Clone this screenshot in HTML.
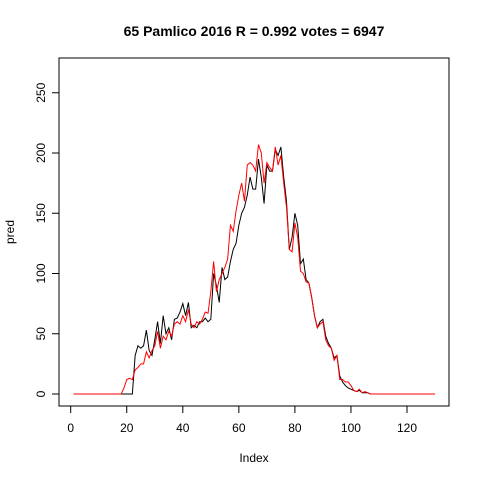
<!DOCTYPE html>
<html><head><meta charset="utf-8"><style>body{margin:0;background:#fff}svg{display:block}text{font-family:"Liberation Sans",Arial,sans-serif}</style></head>
<body>
<svg id="c" width="480" height="480">
<text x="254" y="36" text-anchor="middle" font-size="14" font-weight="bold">65 Pamlico 2016 R = 0.992 votes = 6947</text>
<rect x="59" y="58" width="390" height="348" fill="none" stroke="#000"/>
<text x="254" y="462" text-anchor="middle" font-size="12">Index</text>
<text transform="translate(14,232) rotate(-90)" text-anchor="middle" font-size="12">pred</text>
<g id="ax"></g>
</svg>
<script>
const xTicks=[0,20,40,60,80,100,120];
const yTicks=[0,50,100,150,200,250];
const actual=[0,0,0,0,0,0,0,0,0,0,0,0,0,0,0,0,0,0,0,0,0,0,32,40,38,40,53,36,32,45,60,42,65,50,55,45,62,63,68,75,65,76,55,57,55,60,60,63,60,62,100,90,76,105,95,97,110,120,125,140,150,155,165,180,170,170,195,180,158,190,185,185,203,198,205,180,160,120,130,150,140,108,112,95,92,80,65,55,60,62,48,42,38,30,32,15,10,7,5,4,3,2,3,1,1,1,0,0,0,0,0,0,0,0,0,0,0,0,0,0,0,0,0,0,0,0,0,0,0,0];
const predicted=[0,0,0,0,0,0,0,0,0,0,0,0,0,0,0,0,0,0,5,12,13,12,20,22,25,25,35,30,36,40,52,38,48,45,52,48,58,60,58,65,60,70,58,55,60,58,62,68,67,85,110,85,95,100,105,112,140,135,152,165,175,160,190,192,190,185,207,200,175,192,188,185,205,190,198,175,155,120,118,142,130,102,100,93,92,80,65,55,58,60,45,40,38,28,32,12,12,10,10,7,3,2,4,1,2,1,0,0,0,0,0,0,0,0,0,0,0,0,0,0,0,0,0,0,0,0,0,0,0,0];
const X=v=>70.7+v*2.8025, Y=v=>394-v*1.205;
const ns="http://www.w3.org/2000/svg", svg=document.getElementById('c');
function mk(t,a){const e=document.createElementNS(ns,t);for(const k in a)e.setAttribute(k,a[k]);svg.appendChild(e);return e;}
let e=mk('line',{x1:X(0),x2:X(120),y1:406,y2:406,stroke:'#000'});


xTicks.forEach(t=>{let l=mk('line',{x1:X(t),x2:X(t),y1:406,y2:413,stroke:'#000'});


let tx=mk('text',{x:X(t),y:432,'text-anchor':'middle','font-size':12});tx.textContent=t;

});
e=mk('line',{x1:59,x2:59,y1:Y(0),y2:Y(250),stroke:'#000'});


yTicks.forEach(t=>{let l=mk('line',{x1:52,x2:59,y1:Y(t),y2:Y(t),stroke:'#000'});


let tx=mk('text',{transform:`translate(45,${Y(t)}) rotate(-90)`,'text-anchor':'middle','font-size':12});tx.textContent=t;

});
function line(d,c,n){const p=mk('polyline',{points:d.map((v,i)=>X(i+1)+','+Y(v)).join(' '),fill:'none',stroke:c,'stroke-width':1});

}
line(actual,'#000','actual-line');
line(predicted,'#ff0000','predicted-line');
</script>
</body></html>
